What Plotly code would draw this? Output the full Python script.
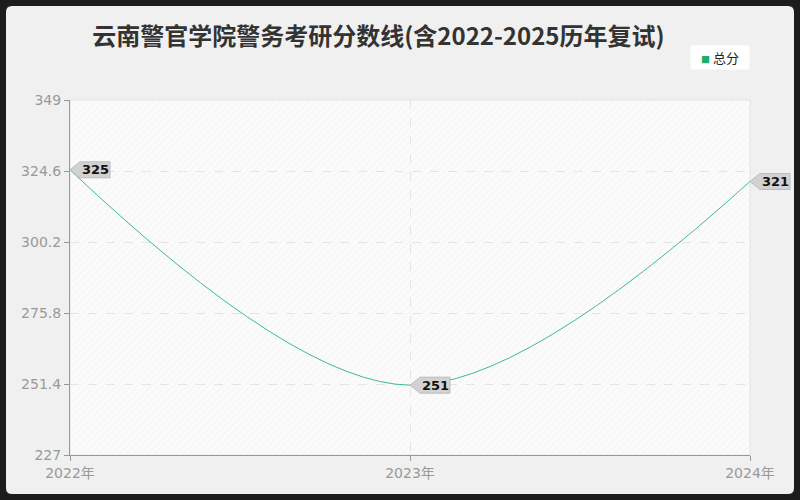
import plotly.graph_objects as go

# data
years = [2022, 2023, 2024]
year_labels = ["2022年", "2023年", "2024年"]
scores = [325, 251, 321]
y_ticks = [227, 251.4, 275.8, 300.2, 324.6, 349]

title = "云南警官学院警务考研分数线(含2022-2025历年复试)"
series_name = "总分"
line_color = "#3dbd8d"
font_cjk = "Noto Sans CJK SC"
font_tick = "DejaVu Sans, Noto Sans CJK SC"

x0, x1 = years[0], years[-1]
y0, y1 = y_ticks[0], y_ticks[-1]

fig = go.Figure()

# faint diagonal hatching over the plot area
fig.add_trace(go.Bar(
    x=[(x0 + x1) / 2], y=[y1 - y0], base=[y0], width=[x1 - x0],
    marker=dict(color="rgba(0,0,0,0)", line=dict(width=0),
                pattern=dict(shape="/", fgcolor="#f0f0f0", bgcolor="rgba(0,0,0,0)", size=5, solidity=0.25)),
    hoverinfo="skip", showlegend=False,
))

fig.add_trace(go.Scatter(
    x=years, y=scores, name=series_name, mode="lines", showlegend=False,
    line=dict(color=line_color, width=1, shape="spline", smoothing=1.0),
))

W, H = 800, 500
ml, mr, mt, mb = 70, 50, 100, 45
pw, ph = W - ml - mr, H - mt - mb


def px(x):
    return (x - ml) / pw


def py(y):
    return (H - mb - y) / ph


# dark frame around a rounded light card (outer rect + reversed inner rounded rect)
r = 6
a, b, c, d = px(6), px(794), py(6), py(494)
rx, ry = r / pw, r / ph
oa, ob, oc, od = px(-2), px(802), py(-2), py(502)
outer = f"M{oa},{oc} L{ob},{oc} L{ob},{od} L{oa},{od} Z"
inner = (f"M{a + rx},{c} Q{a},{c} {a},{c - ry} L{a},{d + ry} Q{a},{d} {a + rx},{d} "
         f"L{b - rx},{d} Q{b},{d} {b},{d + ry} L{b},{c - ry} Q{b},{c} {b - rx},{c} Z")
shapes = [
    dict(type="path", xref="paper", yref="paper", path=outer + " " + inner,
         fillcolor="#1c1c1c", line=dict(width=0), layer="above"),
    # light border round the plot area (top / right)
    dict(type="rect", xref="paper", yref="paper", x0=0, x1=1, y0=0, y1=1,
         line=dict(color="#e2e2e2", width=1), layer="below"),
]

annotations = []
for yr, s in zip(years, scores):
    xp = (yr - x0) / (x1 - x0)
    shapes.append(dict(
        type="path", xref="paper", yref="y", xsizemode="pixel", ysizemode="pixel",
        xanchor=xp, yanchor=s,
        path="M0,0 L10,8 L40,8 L40,-8 L10,-8 Z",
        fillcolor="#d2d2d2", line=dict(color="#bdbdbd", width=1), layer="above",
    ))
    annotations.append(dict(
        xref="paper", yref="y", x=xp, y=s, text=f"<b>{s}</b>", showarrow=False,
        xanchor="center", yanchor="middle", xshift=25,
        font=dict(family=font_tick, size=13, color="#111111"),
    ))

# legend box drawn as an annotation (small square + name)
annotations.append(dict(
    xref="paper", yref="paper", x=px(690), y=py(45), xanchor="left", yanchor="top",
    text=f"<span style='color:#1aaf6c;font-size:9px'>■</span> {series_name}",
    showarrow=False, bgcolor="#ffffff", borderpad=4, width=50, height=15,
    font=dict(family=font_cjk, size=13, color="#222222"),
))

fig.update_layout(
    width=W, height=H,
    margin=dict(l=ml, r=mr, t=mt, b=mb),
    paper_bgcolor="#f0f0f0",
    plot_bgcolor="#fbfbfb",
    title=dict(text=title, x=0.473, xanchor="center", y=0.926, yanchor="middle",
               font=dict(family=font_cjk, size=24, color="#333333", weight="bold")),
    showlegend=False,
    shapes=shapes,
    annotations=annotations,
    bargap=0,
)

fig.update_xaxes(
    range=[x0, x1], tickvals=years, ticktext=year_labels,
    showgrid=True, gridcolor="#e3e3e3", griddash="dash", gridwidth=1,
    showline=True, linecolor="#999999", linewidth=1, mirror=False,
    ticks="outside", ticklen=5, tickcolor="#999999",
    tickfont=dict(family=font_tick, size=14, color="#999999"),
    zeroline=False, fixedrange=True,
)
fig.update_yaxes(
    range=[y0, y1], tickvals=y_ticks, ticktext=[f"{v:g}" for v in y_ticks],
    showgrid=True, gridcolor="#e3e3e3", griddash="dash", gridwidth=1,
    showline=True, linecolor="#999999", linewidth=1,
    ticks="outside", ticklen=5, tickcolor="#999999",
    tickfont=dict(family=font_tick, size=14, color="#999999"),
    zeroline=False, fixedrange=True,
)

fig.write_html("out.html", config={"displayModeBar": False},
               post_script="document.body.style.margin='0';")
